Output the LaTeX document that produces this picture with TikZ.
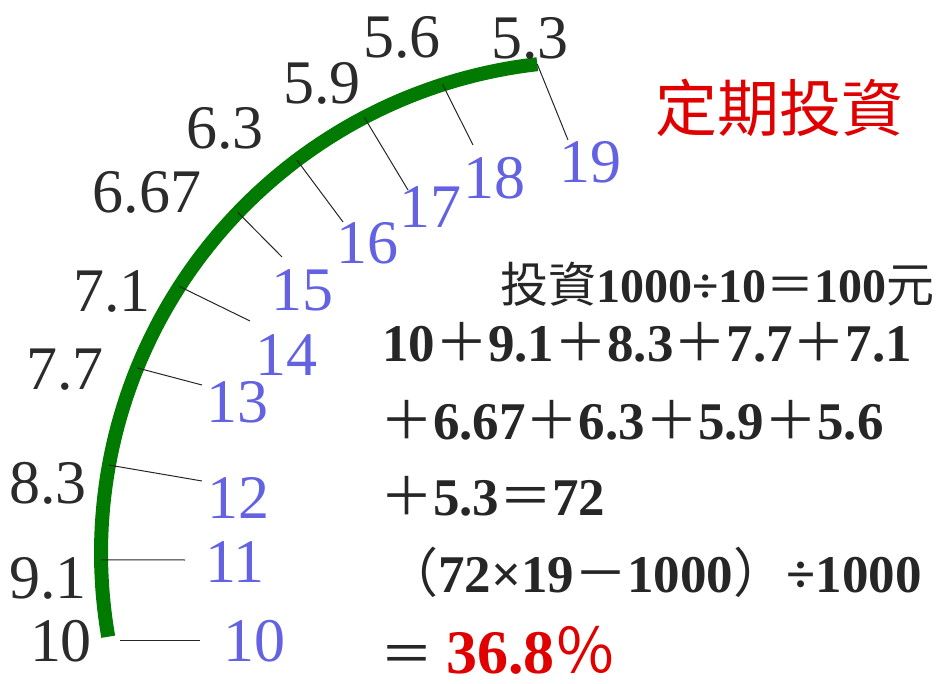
\documentclass[tikz,border=0pt]{standalone}
\usepackage{fontspec}
\setmainfont{Liberation Serif}
\newfontfamily\cjk{Noto Sans CJK TC}
\definecolor{arcgreen}{HTML}{007A00}
\definecolor{yearblue}{HTML}{6262E2}
\definecolor{valuegray}{HTML}{2B2B2B}
\definecolor{titlered}{HTML}{E00000}
\newcommand{\fw}[1]{{\cjk\mdseries #1}}

\begin{document}
\begin{tikzpicture}[
  x=1pt, y=-1pt,
  value/.style={font=\fontsize{62}{62}\selectfont, text=valuegray, inner sep=0pt},
  year/.style={font=\fontsize{62}{62}\selectfont, text=yearblue, inner sep=0pt},
  tick/.style={draw=black!85, line width=1pt},
  curve/.style={draw=arcgreen, line width=14pt},
  calc/.style={font=\fontsize{53}{53}\selectfont\bfseries, text=black!85, anchor=base west, inner sep=0pt},
]
\useasboundingbox (0,0) rectangle (940,684);

% Arc (part of a circle, centre (593,553), radius 492)
\draw[curve] plot[domain=96.5:189.8, samples=80] ({593+492*cos(\x)}, {553-492*sin(\x)});

% Points on the arc
\foreach \n/\t in {11/180.8, 12/169.7, 13/157.9, 14/147.2, 15/136.2,
                   16/127.0, 17/117.7, 18/107.8, 19/96.5}
  \coordinate (a\n) at ({593+492*cos(\t)}, {553-492*sin(\t)});

% Tick ends
\foreach \n/\px/\py in {10/200/640, 11/185/560, 12/202/481, 13/202/385, 14/250/321,
                        15/282/257, 16/343/222, 17/408/190, 18/473/145, 19/568/140}
  \coordinate (e\n) at (\px,\py);
\coordinate (s10) at (120,640);

% Ticks
\draw[tick] (s10) -- (e10);
\foreach \n in {11,...,19}
  \draw[tick] (a\n) -- (e\n);

% Values on the outside
\foreach \n/\txt/\px/\py in {10/10/61/641, 11/9.1/48/578, 12/8.3/48/483, 13/7.7/65/370,
                             14/7.1/112/291, 15/6.67/147/192, 16/6.3/225/128,
                             17/5.9/322/83, 18/5.6/402/37, 19/5.3/530/38}
  \node[value] (v\n) at (\px,\py) {\txt};

% Years on the inside
\foreach \n/\px/\py in {10/254/641, 11/235/562, 12/238/498, 13/237/402, 14/286/355,
                        15/302/290, 16/367/243, 17/430/207, 18/494/178, 19/590/162}
  \node[year] (y\n) at (\px,\py) {\n};

% Title
\node[font=\cjk\fontsize{62}{62}\selectfont, text=titlered, inner sep=0pt] (title) at (779,108) {定期投資};

% Calculation
\node[calc, font=\fontsize{48}{48}\selectfont\bfseries] (line1) at (500,303) {\fw{投資}1000÷10\fw{＝}100\fw{元}};
\node[calc] (line2) at (382,362) {10\fw{＋}9.1\fw{＋}8.3\fw{＋}7.7\fw{＋}7.1};
\node[calc] (line3) at (380,440) {\fw{＋}6.67\fw{＋}6.3\fw{＋}5.9\fw{＋}5.6};
\node[calc] (line4) at (380,515) {\fw{＋}5.3\fw{＝}72};
\node[calc] (line5) at (385,592) {\fw{（}72×19\fw{－}1000\fw{）}÷1000};
\node[calc] (line6) at (380,673) {\fw{＝} \textcolor{titlered}{\fontsize{62}{62}\selectfont 36.8\fw{％}}};

\end{tikzpicture}
\end{document}
